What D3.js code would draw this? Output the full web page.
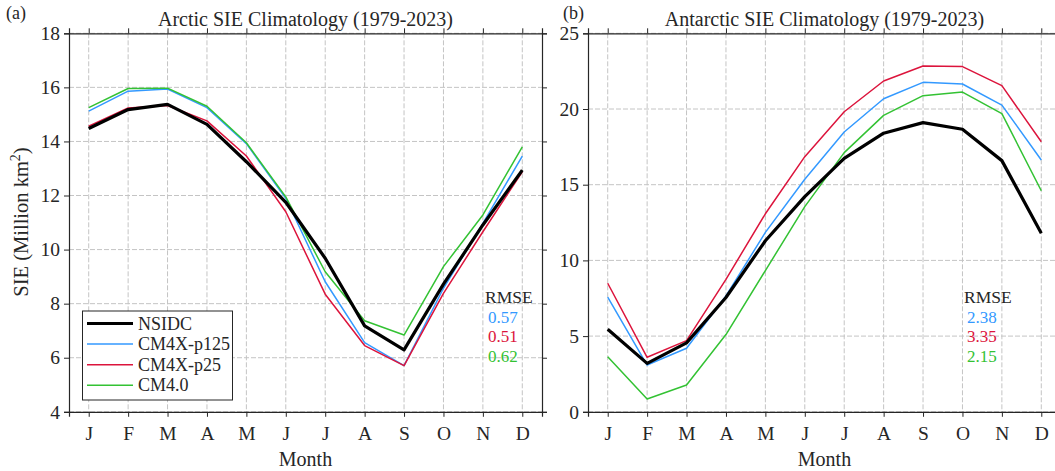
<!DOCTYPE html>
<html><head><meta charset="utf-8">
<script src="https://cdn.jsdelivr.net/npm/d3@7"></script>
<style>body{margin:0;background:#fff}svg{display:block}
svg text{font-family:'Liberation Serif','Times New Roman',serif !important;fill:#262626}</style>
</head><body>
<svg id="c" width="1055" height="471"></svg>
<script>
const FONT = "'Liberation Serif','Times New Roman',serif";
const months = ["J","F","M","A","M","J","J","A","S","O","N","D"];
const seriesNames = ["NSIDC","CM4X-p125","CM4X-p25","CM4.0"];
const seriesColors = ["#000000","#3399ff","#dc143c","#33c233"];
const arcticNSIDC = [14.48,15.18,15.37,14.63,13.25,11.75,9.68,7.18,6.29,8.72,10.91,12.94];
const arcticP125  = [15.12,15.86,15.94,15.25,13.92,11.9,8.81,6.56,5.71,8.57,10.97,13.46];
const arcticP25   = [14.56,15.24,15.33,14.76,13.46,11.4,8.35,6.45,5.71,8.38,10.66,12.88];
const arcticCM4   = [15.25,15.96,15.97,15.30,13.95,11.95,9.18,7.37,6.84,9.37,11.28,13.8];
const antNSIDC = [5.45,3.2,4.55,7.55,11.3,14.21,16.74,18.4,19.1,18.66,16.59,11.79];
const antP125  = [7.58,3.09,4.2,7.65,11.85,15.36,18.48,20.68,21.76,21.65,20.26,16.63];
const antP25   = [8.49,3.6,4.7,8.75,13.08,16.85,19.82,21.85,22.84,22.8,21.54,17.84];
const antCM4   = [3.64,0.85,1.77,5.1,9.33,13.55,17.12,19.58,20.88,21.12,19.69,14.6];
const arcticRMSE = ["0.57","0.51","0.62"];
const antRMSE = ["2.38","3.35","2.15"];
const arcticYTicks = [4,6,8,10,12,14,16,18];
const antYTicks = [0,5,10,15,20,25];

const svg = d3.select("#c");
const yTop = 33.3, yBot = 411.8;

function txt(sel, size){ return sel.attr("font-family",FONT).style("font-family",FONT).style("font-size",size+"px"); }

function panel(opt){
  const g = svg.append("g");
  const x = d3.scaleLinear().domain([0.5,12.5]).range([opt.x0, opt.x1]);
  const y = d3.scaleLinear().domain(opt.ydom).range([yBot, yTop]);
  const idx = d3.range(1,13);
  g.append("g").selectAll("line").data(idx).join("line")
    .attr("x1",d=>x(d)).attr("x2",d=>x(d)).attr("y1",yTop).attr("y2",yBot)
    .attr("stroke","#c4c4c4").attr("stroke-width",1).attr("stroke-dasharray","5,2");
  g.append("g").selectAll("line").data(opt.yticks).join("line")
    .attr("x1",opt.x0).attr("x2",opt.x1).attr("y1",d=>y(d)).attr("y2",d=>y(d))
    .attr("stroke","#c4c4c4").attr("stroke-width",1).attr("stroke-dasharray","5,2");
  const line = d3.line().x((d,i)=>x(i+1)).y(d=>y(d));
  [1,2,3,0].forEach(k=>{
    g.append("path").datum(opt.data[k]).attr("d",line).attr("fill","none")
      .attr("stroke",seriesColors[k]).attr("stroke-width",k===0?3.2:1.5)
      .attr("stroke-linejoin","round");
  });
  const ax = g.append("g").attr("transform",`translate(0,${yBot})`)
    .call(d3.axisBottom(x).tickValues(idx).tickFormat(d=>months[d-1]).tickSize(5).tickPadding(9));
  const axT = g.append("g").attr("transform",`translate(0,${yTop})`)
    .call(d3.axisTop(x).tickValues(idx).tickFormat("").tickSize(5));
  const ay = g.append("g").attr("transform",`translate(${opt.x0},0)`)
    .call(d3.axisLeft(y).tickValues(opt.yticks).tickSize(5).tickPadding(4));
  const ayR = g.append("g").attr("transform",`translate(${opt.x1},0)`)
    .call(d3.axisRight(y).tickValues(opt.yticks).tickFormat("").tickSize(5));
  [ax,axT,ay,ayR].forEach(a=>{
    a.attr("font-family",FONT);
    a.selectAll("path").attr("stroke","#262626").attr("stroke-width",1.2);
    a.selectAll("line").attr("stroke","#262626").attr("stroke-width",1);
    txt(a.selectAll("text"),19.5).attr("fill","#262626");
  });
  txt(g.append("text").attr("x",(opt.x0+opt.x1)/2).attr("y",26).attr("text-anchor","middle"),20).text(opt.title);
  txt(g.append("text").attr("x",opt.lab[0]).attr("y",opt.lab[1]),18).text(opt.letter);
  txt(g.append("text").attr("x",(opt.x0+opt.x1)/2).attr("y",466).attr("text-anchor","middle"),20).text("Month");
  txt(g.append("text").attr("x",opt.rm[0]).attr("y",opt.rm[1]),17.5).text("RMSE");
  opt.rmse.forEach((v,i)=>{
    txt(g.append("text").attr("x",opt.rm[0]+3).attr("y",opt.rm[1]+19.5*(i+1)),17)
      .style("fill",seriesColors[i+1]).text(v);
  });
  return {x,y,g};
}

panel({x0:69,x1:542,ydom:[4,18],yticks:arcticYTicks,
  data:[arcticNSIDC,arcticP125,arcticP25,arcticCM4],title:"Arctic SIE Climatology (1979-2023)",
  letter:"(a)",lab:[6,19],rm:[485,303],rmse:arcticRMSE});
panel({x0:588,x1:1061,ydom:[0,25],yticks:antYTicks,
  data:[antNSIDC,antP125,antP25,antCM4],title:"Antarctic SIE Climatology (1979-2023)",
  letter:"(b)",lab:[563,19],rm:[964,303],rmse:antRMSE});

const yl = txt(svg.append("text").attr("transform","translate(28,222) rotate(-90)").attr("text-anchor","middle"),20.5);
yl.append("tspan").text("SIE (Million km");
yl.append("tspan").attr("dy",-8).style("font-size","14px").text("2");
yl.append("tspan").attr("dy",8).text(")");

const lg = svg.append("g");
lg.append("rect").attr("x",82.5).attr("y",311).attr("width",150).attr("height",89)
  .attr("fill","#fff").attr("stroke","#262626").attr("stroke-width",1);
seriesNames.forEach((n,i)=>{
  const yy = 323.5 + i*20.6;
  lg.append("line").attr("x1",87).attr("x2",133).attr("y1",yy).attr("y2",yy)
    .attr("stroke",seriesColors[i]).attr("stroke-width",i===0?3.2:1.5);
  txt(lg.append("text").attr("x",138).attr("y",yy+6),18).text(n);
});
</script>
</body></html>
